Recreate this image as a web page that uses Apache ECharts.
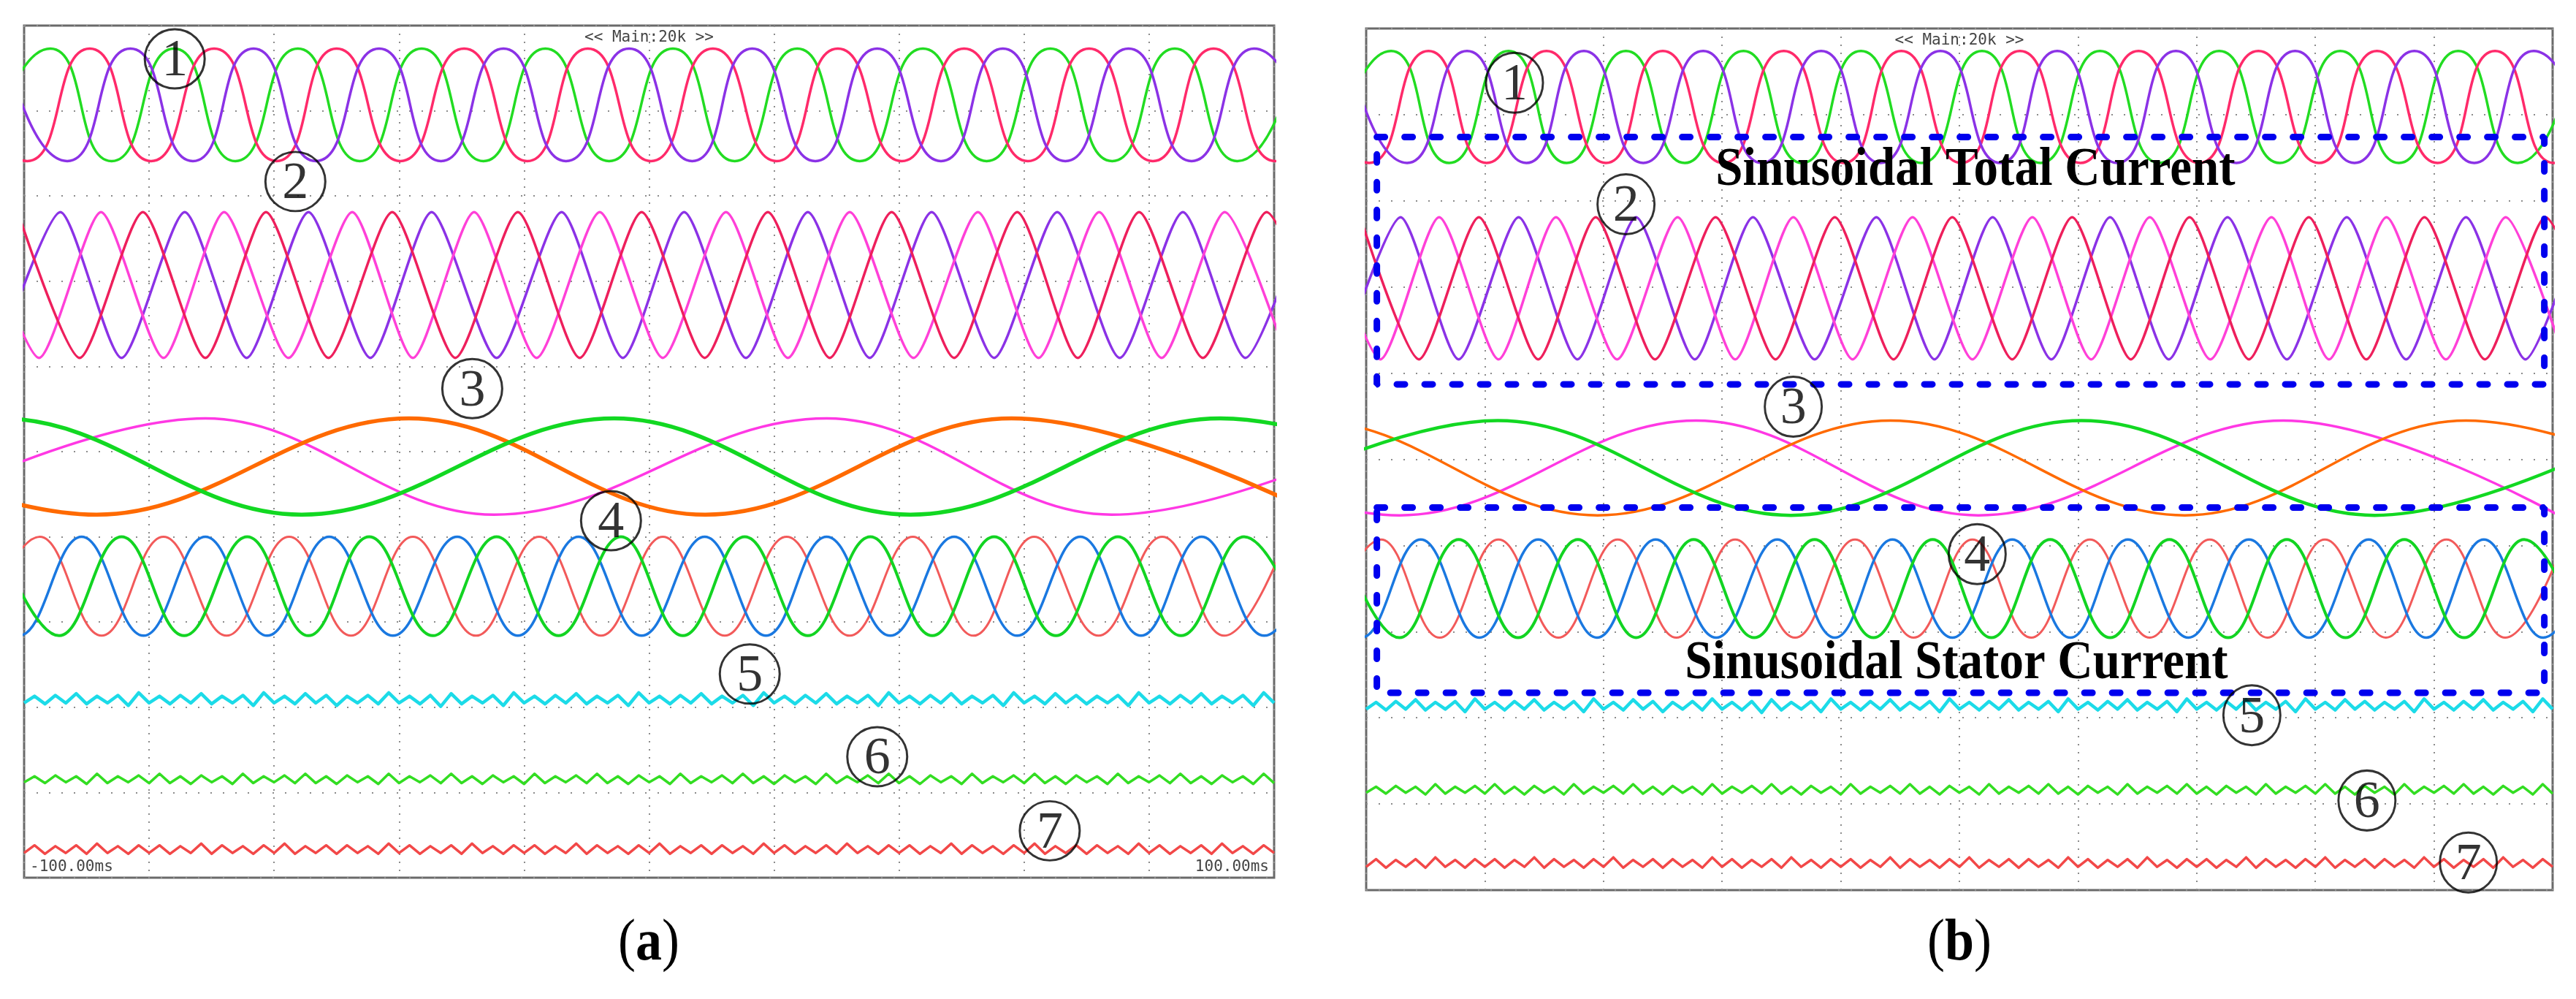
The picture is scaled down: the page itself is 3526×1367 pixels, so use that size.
<!DOCTYPE html>
<html><head><meta charset="utf-8">
<script src="https://cdn.jsdelivr.net/npm/echarts@6/dist/echarts.min.js"></script>
<style>html,body{margin:0;padding:0;background:#fff}#c{width:3526px;height:1367px}</style>
</head><body><div id="c"></div>
<script>
// ---------- DATA (time in ms, amplitude in scope divisions, 0 = bottom, 10 = top) ----------
// Group 1 extremes (peak / trough times)
const g1GreenHi  = [-95.8, -76.0, -56.2, -36.4, -16.6, 3.8, 23.7, 43.8, 64.2, 84.1, 104.0];
const g1GreenLo  = [-105.8, -86.0, -66.2, -46.3, -26.5, -6.4, 13.7, 33.7, 54.0, 74.1, 94.1];
const g1PinkHi   = [-109.5, -89.5, -69.6, -50.0, -29.6, -9.8, 10.2, 30.2, 50.4, 70.4, 90.3, 110.2];
const g1PinkLo   = [-99.5, -79.7, -59.6, -39.8, -19.5, 0.3, 20.4, 40.4, 60.6, 80.6, 100.2];
const g1PurpleHi = [-103.0, -83.0, -63.3, -43.2, -23.3, -3.2, 16.5, 36.5, 56.6, 76.7, 96.8];
const g1PurpleLo = [-93.1, -73.0, -53.3, -33.3, -13.3, 6.9, 26.6, 46.7, 66.6, 86.8, 106.8];
// Group 2
const g2RedHi     = [-101.0, -81.0, -61.3, -41.1, -21.0, -1.2, 19.0, 38.8, 58.9, 78.4, 98.8];
const g2RedLo     = [-91.1, -71.0, -51.3, -31.0, -11.1, 8.9, 28.9, 48.8, 68.6, 88.6, 108.8];
const g2MagentaHi = [-107.5, -87.7, -68.0, -47.5, -28.0, -7.9, 12.3, 32.1, 52.6, 72.0, 92.1];
const g2MagentaLo = [-97.6, -77.7, -57.7, -37.8, -18.0, 2.2, 22.2, 42.3, 62.3, 82.0, 102.0];
const g2PurpleHi  = [-94.2, -74.3, -54.5, -34.8, -14.0, 5.6, 25.4, 45.2, 65.3, 85.4, 105.3];
const g2PurpleLo  = [-104.2, -84.4, -64.4, -44.6, -24.4, -4.2, 15.5, 35.3, 55.2, 75.3, 95.4];
// Group 3 (slow waves) panel a
const g3aOrangeHi  = [-137.0, -38.4, 58.0];
const g3aOrangeLo  = [-88.4, 9.0, 107.0];
const g3aMagentaHi = [-71.0, 28.4, 124.0];
const g3aMagentaLo = [-120.0, -24.8, 74.0];
const g3aGreenHi   = [-103.7, -5.6, 91.4];
const g3aGreenLo   = [-152.0, -55.6, 41.8, 140.0];
// Group 3 panel b
const g3bOrangeHi  = [-109.6, -11.6, 85.4];
const g3bOrangeLo  = [-158.0, -61.0, 38.0, 134.0];
const g3bMagentaHi = [-142.0, -44.4, 54.6];
const g3bMagentaLo = [-94.4, 3.2, 101.0];
const g3bGreenHi   = [-77.8, 20.6, 118.0];
const g3bGreenLo   = [-126.0, -28.4, 70.0];
// Group 4
const g4RedHi   = [-97.5, -77.7, -57.6, -37.8, -17.6, 2.2, 22.0, 42.2, 61.6, 82.1, 102.0];
const g4RedLo   = [-107.5, -87.6, -67.6, -47.7, -27.7, -7.7, 12.1, 32.1, 51.9, 71.9, 92.0];
const g4BlueHi  = [-110.8, -90.8, -71.0, -51.2, -30.7, -11.3, 8.9, 28.4, 48.8, 69.0, 88.4, 108.4];
const g4BlueLo  = [-100.8, -80.9, -61.1, -41.0, -21.0, -1.2, 18.7, 38.6, 58.9, 78.7, 98.4];
const g4GreenHi = [-104.4, -84.4, -64.3, -44.8, -24.4, -4.5, 15.3, 35.4, 55.2, 75.0, 95.2];
const g4GreenLo = [-94.4, -74.4, -54.5, -34.6, -14.5, 5.4, 25.4, 45.3, 65.1, 85.1, 105.2];
// Levels [low, high] per panel [a, b]
const levelG1 = [[8.41, 9.73], [8.44, 9.74]];
const levelG2 = [[6.10, 7.81], [6.16, 7.81]];
const levelG3 = [[4.26, 5.39], [4.35, 5.45]];
const levelG4 = [[2.84, 4.00], [2.93, 4.07]];
const levelG5 = [2.09, 2.14];
const levelG6 = [1.15, 1.16];
const levelG7 = [0.33, 0.31];
// Ripple deviations (1/100 div) sampled at successive ripple extremes across -100..100 ms
const ripple5 = [-4,4,-5,5,-4,7,-5,4,-4,5,-7,8,-4,4,-5,5,-4,7,-5,4,
  -4,5,-7,8,-4,4,-5,7,-4,5,-7,4,-4,5,-5,8,-4,4,-5,5,
  -8,7,-5,4,-4,5,-7,8,-4,4,-5,5,-4,7,-5,4,-4,5,-7,8,
  -4,4,-5,5,-4,7,-5,4,-4,5,-7,8,-4,4,-5,5,-4,7,-5,4,
  -4,5,-7,8,-4,4,-5,5,-4,7,-5,4,-4,5,-7,8,-4,4,-5,7,
  -4,5,-5,4,-4,5,-7,8,-4,4,-5,5,-4,7,-5,4,-4,5,-7,8,-4];
const ripple6 = [-3,4,-4,5,-3,4,-5,7,-4,4,-3,5,-4,7,-4,4,-5,5,-3,4,
  -5,7,-4,4,-3,5,-4,7,-4,4,-5,5,-3,4,-5,7,-4,4,-3,5,
  -4,7,-4,4,-5,5,-3,4,-5,7,-4,4,-3,5,-4,7,-4,4,-5,5,
  -3,4,-5,7,-4,4,-3,5,-4,7,-4,4,-5,5,-3,4,-5,7,-4,4,
  -3,5,-4,7,-4,4,-5,5,-3,4,-5,7,-4,4,-3,5,-4,7,-4,4,
  -5,5,-3,4,-5,7,-4,4,-3,5,-4,7,-4,4,-5,5,-3,4,-5,7,-4];
const ripple7 = [-4,5,-5,4,-4,5,-5,7,-4,4,-5,5,-4,5,-5,4,-4,7,-5,5,
  -4,4,-5,5,-4,7,-5,4,-4,5,-5,5,-4,4,-5,7,-4,5,-5,4,
  -4,5,-5,7,-4,4,-5,5,-4,5,-5,4,-4,7,-5,5,-4,4,-5,5,
  -4,7,-5,4,-4,5,-5,5,-4,4,-5,7,-4,5,-5,4,-4,5,-5,7,
  -4,4,-5,5,-4,5,-5,4,-4,7,-5,5,-4,4,-5,5,-4,7,-5,4,
  -4,5,-5,5,-4,4,-5,7,-4,5,-5,4,-4,5,-5,7,-4,4,-5,5,-4];
// Annotations
const circleNums = ['1','2','3','4','5','6','7'];
const circlePosA = [[-75.9,9.61],[-56.6,8.17],[-28.3,5.74],[-6.1,4.19],[16.1,2.39],[36.5,1.42],[64.1,0.55]];
const circlePosB = [[-75.0,9.37],[-56.2,7.96],[-28.0,5.61],[3.0,3.90],[49.3,2.03],[68.7,1.04],[85.8,0.32]];
const boxTotalB  = [[-98.2, 8.74], [98.6, 5.87]];
const boxStatorB = [[-98.2, 4.44], [98.6, 2.29]];
const boxTexts   = ['Sinusoidal Total Current', 'Sinusoidal Stator Current'];
const boxTextPos = [[2.7, 8.35], [-0.5, 2.62]];
const headerLabel = '<< Main:20k >>';
const timeLabels = ['-100.00ms', '100.00ms'];
const panelLetters = ['a', 'b'];

// ---------- BUILD ----------
function wave(hi, lo, lv) {
  const pts = hi.map(t => [t, lv[1]]).concat(lo.map(t => [t, lv[0]]));
  pts.sort((a, b) => a[0] - b[0]);
  return pts;
}
function ripple(dev, base) {
  const n = dev.length;
  return dev.map((d, i) => [-100 + i * 200 / (n - 1), base + d / 100]);
}
function ln(p, data, color, width, smooth, z) {
  return {type: 'line', xAxisIndex: p, yAxisIndex: p, data: data, showSymbol: false, symbol: 'none',
    smooth: smooth, silent: true, z: z || 2, lineStyle: {color: color, width: width, join: 'round'}};
}
const grids = [
  {left: 33, top: 35, width: 1711, height: 1166},
  {left: 1870, top: 39, width: 1624, height: 1179}
];
const series = [];
[0, 1].forEach(p => {
  const g3 = p === 0
    ? [g3aOrangeHi, g3aOrangeLo, g3aMagentaHi, g3aMagentaLo, g3aGreenHi, g3aGreenLo]
    : [g3bOrangeHi, g3bOrangeLo, g3bMagentaHi, g3bMagentaLo, g3bGreenHi, g3bGreenLo];
  series.push(ln(p, wave(g1GreenHi, g1GreenLo, levelG1[p]), '#22dc22', 3.5, 0.6));
  series.push(ln(p, wave(g1PinkHi, g1PinkLo, levelG1[p]), '#ff2a6a', 3.5, 0.6));
  series.push(ln(p, wave(g1PurpleHi, g1PurpleLo, levelG1[p]), '#8b32e6', 3.5, 0.6));
  series.push(ln(p, wave(g2PurpleHi, g2PurpleLo, levelG2[p]), '#8b32e6', 3.5, 0.22));
  series.push(ln(p, wave(g2MagentaHi, g2MagentaLo, levelG2[p]), '#ff40d8', 3.5, 0.22));
  series.push(ln(p, wave(g2RedHi, g2RedLo, levelG2[p]), '#ee1f5c', 3.5, 0.22));
  series.push(ln(p, wave(g3[2], g3[3], levelG3[p]), '#ff38e4', 3.5, 0.38));
  series.push(ln(p, wave(g3[0], g3[1], levelG3[p]), '#ff6a00', p === 0 ? 5.5 : 3.5, 0.38));
  series.push(ln(p, wave(g3[4], g3[5], levelG3[p]), '#12d822', p === 0 ? 5.5 : 4.5, 0.38));
  series.push(ln(p, wave(g4RedHi, g4RedLo, levelG4[p]), '#f25a5a', 3, 0.42));
  series.push(ln(p, wave(g4BlueHi, g4BlueLo, levelG4[p]), '#1a78e0', 3.5, 0.42));
  series.push(ln(p, wave(g4GreenHi, g4GreenLo, levelG4[p]), '#12d422', 4, 0.42));
  series.push(ln(p, ripple(ripple5, levelG5[p]), '#1cdbe8', 4.5, false));
  series.push(ln(p, ripple(ripple6, levelG6[p]), '#33dd22', 3.5, false));
  series.push(ln(p, ripple(ripple7, levelG7[p]), '#f24848', 3.5, false));
  const pos = p === 0 ? circlePosA : circlePosB;
  series.push({
    type: 'scatter', xAxisIndex: p, yAxisIndex: p, z: 10, silent: true,
    data: pos.map((c, i) => [c[0], c[1], circleNums[i]]),
    symbol: 'circle', symbolSize: p === 0 ? [82, 81] : [78, 82],
    itemStyle: {color: 'rgba(0,0,0,0)', borderColor: '#000', borderWidth: 3},
    label: {show: true, position: 'inside', formatter: d => d.data[2], color: '#000',
      fontFamily: '"Liberation Serif", serif', fontSize: 72, offset: [0, 4]}
  });
});
[boxTotalB, boxStatorB].forEach(b => {
  series.push({
    type: 'line', xAxisIndex: 1, yAxisIndex: 1, showSymbol: false, symbol: 'none', silent: true, z: 6,
    data: [[b[0][0], b[0][1]], [b[1][0], b[0][1]], [b[1][0], b[1][1]], [b[0][0], b[1][1]], [b[0][0], b[0][1]]],
    lineStyle: {color: '#0000ee', width: 9, type: [11, 27], cap: 'round'}
  });
});
const split = t => ({show: true, lineStyle: {color: '#8c8c8c', width: 2, type: t}});
const option = {
  animation: false,
  backgroundColor: '#fff',
  grid: grids.map(g => Object.assign({show: true, borderColor: '#6a6a6a', borderWidth: 3, backgroundColor: '#fff'}, g)),
  xAxis: [0, 1].map(i => ({type: 'value', gridIndex: i, min: -100, max: 100, interval: 20,
    axisLine: {show: false}, axisTick: {show: false}, axisLabel: {show: false}, splitLine: split([2, 9])})),
  yAxis: [0, 1].map(i => ({type: 'value', gridIndex: i, min: 0, max: 10, interval: 1,
    axisLine: {show: false}, axisTick: {show: false}, axisLabel: {show: false}, splitLine: split([2, 15])})),
  series: series
};
const chart = echarts.init(document.getElementById('c'), null, {renderer: 'canvas'});
chart.setOption(option);

const mono = '21px "DejaVu Sans Mono", monospace';
const graphic = [];
grids.forEach((g, i) => {
  graphic.push({type: 'text', x: g.left + g.width / 2, y: g.top + 17, z: 20,
    style: {text: headerLabel, font: mono, fill: '#444', align: 'center', verticalAlign: 'middle'}});
  graphic.push({type: 'text', x: i === 0 ? 888 : 2682, y: 1292, z: 20, scaleY: 1.12,
    style: {text: '{p|(}{l|' + panelLetters[i] + '}{p|)}', align: 'center', verticalAlign: 'middle',
      rich: {p: {font: '72px "Liberation Serif", serif', fill: '#000'},
             l: {font: 'bold 72px "Liberation Serif", serif', fill: '#000'}}}});
});
graphic.push({type: 'text', x: grids[0].left + 8, y: grids[0].top + grids[0].height - 14, z: 20,
  style: {text: timeLabels[0], font: mono, fill: '#444', align: 'left', verticalAlign: 'middle'}});
graphic.push({type: 'text', x: grids[0].left + grids[0].width - 7, y: grids[0].top + grids[0].height - 14, z: 20,
  style: {text: timeLabels[1], font: mono, fill: '#444', align: 'right', verticalAlign: 'middle'}});
boxTexts.forEach((t, i) => {
  const px = chart.convertToPixel({gridIndex: 1}, boxTextPos[i]);
  graphic.push({type: 'text', x: px[0], y: px[1], z: 20, scaleY: 1.12, originY: 0,
    style: {text: t, font: 'bold 67px "Liberation Serif", serif', fill: '#000', align: 'center', verticalAlign: 'middle'}});
});
chart.setOption({graphic: graphic});
</script></body></html>
